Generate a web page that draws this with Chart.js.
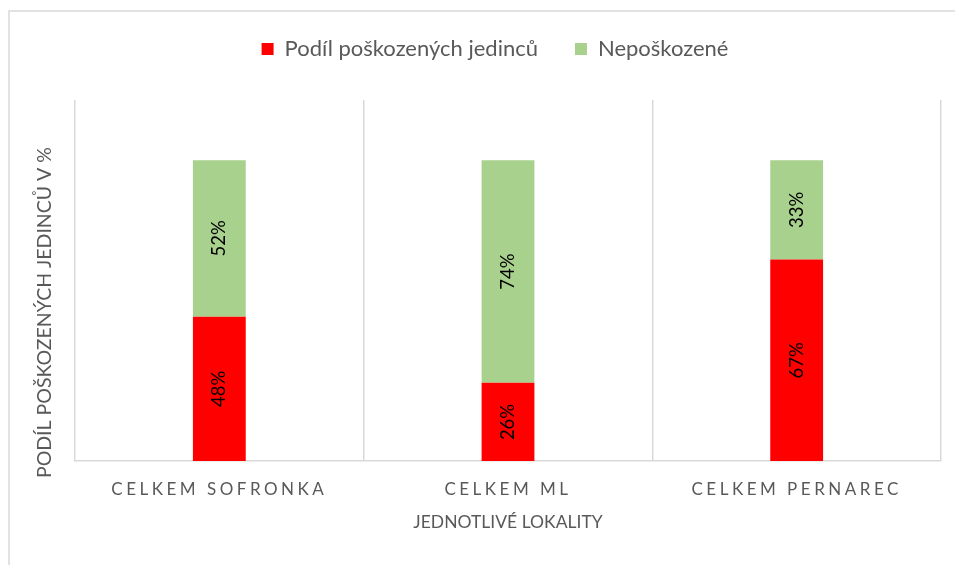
<!DOCTYPE html>
<html>
<head>
<meta charset="utf-8">
<script src="https://cdn.jsdelivr.net/npm/chart.js@4.4.0/dist/chart.umd.min.js"></script>
<style>
html,body{margin:0;padding:0;background:#fff;}
#wrap{width:955px;height:565px;position:relative;}
</style>
</head>
<body>
<div id="wrap"><canvas id="c" width="955" height="565"></canvas></div>
<script>
const categories = ["CELKEM SOFRONKA", "CELKEM ML", "CELKEM PERNAREC"];
const damaged = [48, 26, 67];
const undamaged = [52, 74, 33];
const seriesNames = ["Podíl poškozených jedinců", "Nepoškozené"];
const xTitle = "JEDNOTLIVÉ LOKALITY";
const yTitle = "PODÍL POŠKOZENÝCH JEDINCŮ V %";

const FONT = "Lato, 'Open Sans', sans-serif";
const GREY = "#595959";
const GRID = "#d9d9d9";

const framePlugin = {
  id: 'frame',
  beforeDraw(chart) {
    const ctx = chart.ctx;
    ctx.save();
    ctx.strokeStyle = GRID;
    ctx.lineWidth = 1.5;
    ctx.beginPath();
    ctx.moveTo(9, 565);
    ctx.lineTo(9, 11);
    ctx.lineTo(955, 11);
    ctx.stroke();
    ctx.restore();
    const s = chart.scales.x;
    if (s && !s._ls) {
      const orig = s.drawLabels.bind(s);
      s.drawLabels = function (ca) {
        const c = this.ctx;
        c.save();
        c.letterSpacing = '3.5px';
        orig(ca);
        c.restore();
      };
      s._ls = true;
    }
  },
  afterDraw(chart) {
    // vertical axis title, positioned as in the reference
    const ctx = chart.ctx;
    const area = chart.chartArea;
    ctx.save();
    ctx.font = "19.5px " + FONT;
    ctx.fillStyle = GREY;
    ctx.textAlign = 'center';
    ctx.textBaseline = 'middle';
    ctx.translate(area.left - 30, (area.top + area.bottom) / 2 + 32);
    ctx.rotate(-Math.PI / 2);
    ctx.fillText(yTitle, 0, 0);
    ctx.restore();
  }
};

const labelPlugin = {
  id: 'vlabels',
  afterDatasetsDraw(chart) {
    const ctx = chart.ctx;
    ctx.save();
    ctx.font = "18.5px " + FONT;
    ctx.fillStyle = "#000";
    ctx.textAlign = 'center';
    ctx.textBaseline = 'middle';
    chart.data.datasets.forEach((ds, di) => {
      const meta = chart.getDatasetMeta(di);
      meta.data.forEach((bar, i) => {
        const cy = (bar.y + bar.base) / 2;
        ctx.save();
        ctx.translate(bar.x, cy);
        ctx.rotate(-Math.PI / 2);
        ctx.fillText(ds.data[i] + '%', 0, 0);
        ctx.restore();
      });
    });
    ctx.restore();
  }
};

new Chart(document.getElementById('c'), {
  type: 'bar',
  data: {
    labels: categories,
    datasets: [
      { label: seriesNames[0], data: damaged, backgroundColor: '#ff0000' },
      { label: seriesNames[1], data: undamaged, backgroundColor: '#a9d18e' }
    ]
  },
  options: {
    responsive: false,
    animation: false,
    devicePixelRatio: 1,
    layout: { padding: { top: 1, right: 14, left: 49, bottom: 32.5 } },
    datasets: { bar: { categoryPercentage: 1, barPercentage: 0.183 } },
    plugins: {
      legend: {
        position: 'top',
        labels: {
          color: GREY,
          font: { family: FONT, size: 22 },
          boxWidth: 12, boxHeight: 12,
          padding: 37
        }
      },
      subtitle: {
        display: true,
        text: '',
        position: 'top',
        weight: 500,
        font: { size: 12, lineHeight: 1 },
        padding: { top: 0, bottom: 18 }
      },
      tooltip: { enabled: false }
    },
    scales: {
      x: {
        stacked: true,
        grid: { color: GRID, lineWidth: 1.5, drawTicks: false, offset: true },
        border: { color: GRID, width: 1.5 },
        ticks: { color: GREY, font: { family: FONT, size: 17 }, padding: 18, maxRotation: 0, autoSkip: false },
        title: { display: true, text: xTitle, color: GREY, font: { family: FONT, size: 17.5 }, padding: { top: -6, bottom: 0 } }
      },
      y: {
        display: true,
        stacked: true,
        min: 0, max: 120,
        grid: { display: false, drawTicks: false },
        border: { display: false },
        ticks: { display: false },
        afterFit(scale) { scale.width = 26; }
      }
    }
  },
  plugins: [framePlugin, labelPlugin]
});
</script>
</body>
</html>
